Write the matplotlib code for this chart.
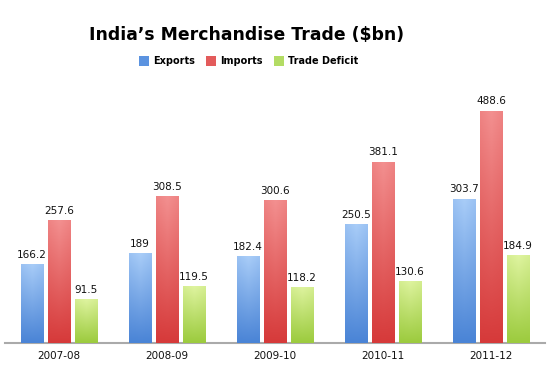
import matplotlib
matplotlib.use("Agg")
import matplotlib.pyplot as plt
import numpy as np
from matplotlib.colors import LinearSegmentedColormap
from matplotlib.patches import Patch

years = ["2007-08", "2008-09", "2009-10", "2010-11", "2011-12"]
exports = [166.2, 189, 182.4, 250.5, 303.7]
imports = [257.6, 308.5, 300.6, 381.1, 488.6]
deficit = [91.5, 119.5, 118.2, 130.6, 184.9]
labels = ["Exports", "Imports", "Trade Deficit"]

series = [exports, imports, deficit]
grad = [("#4a84d6", "#a9cdf8"), ("#d63a3a", "#f39090"), ("#9ccb3e", "#dff4a0")]
legend_cols = ["#5b93e0", "#e35b5b", "#b3dc64"]

fig = plt.figure(figsize=(5.5, 3.69), dpi=100)
ax = fig.add_axes([5/550, 26/369, 540/550, 253/369])

x = np.arange(len(years))
w = 0.204
step = 0.25
for i, (vals, (c0, c1)) in enumerate(zip(series, grad)):
    bars = ax.bar(x + (i - 1) * step, vals, width=w, color=c0, zorder=2)
    cmap = LinearSegmentedColormap.from_list("g%d" % i, [c0, c1])
    for b, v in zip(bars, vals):
        bx, by = b.get_x(), b.get_y()
        bw, bh = b.get_width(), b.get_height()
        gy = np.linspace(0, 1, 100).reshape(-1, 1)
        gx = 1 - 0.15 * np.abs(np.linspace(-1, 1, 30)).reshape(1, -1)
        img = gy * gx
        im = ax.imshow(img, cmap=cmap, vmin=0, vmax=1, origin="lower",
                       extent=[bx, bx + bw, by, by + bh], aspect="auto",
                       zorder=3, interpolation="bilinear")
        im.set_clip_path(b)
        ax.text(bx + bw / 2, v + 9, ("%g" % v), ha="center", va="bottom",
                fontsize=7.5, color="#111111", zorder=4)

ax.set_xlim(-0.5, 4.5)
ax.set_ylim(0, 532)
ax.set_xticks(x)
ax.set_xticklabels(years, fontsize=7.5, color="#111111")
ax.tick_params(axis="x", length=0, pad=6)
ax.set_yticks([])
for s in ["top", "right", "left"]:
    ax.spines[s].set_visible(False)
ax.spines["bottom"].set_color("#aaaaaa")
ax.spines["bottom"].set_linewidth(1.5)

fig.text(0.449, 0.905, "India\u2019s Merchandise Trade ($bn)", ha="center", va="center",
         fontsize=12.4, fontweight="bold", color="#000000")

handles = [Patch(facecolor=c, edgecolor="none") for c in legend_cols]
fig.legend(handles, labels, loc="center", bbox_to_anchor=(0.452, 0.835), ncol=3,
           frameon=False, prop={"weight": "bold", "size": 7},
           handlelength=1.0, handleheight=1.2, handletextpad=0.4, columnspacing=1.2)

fig.savefig("out.png", dpi=100)
